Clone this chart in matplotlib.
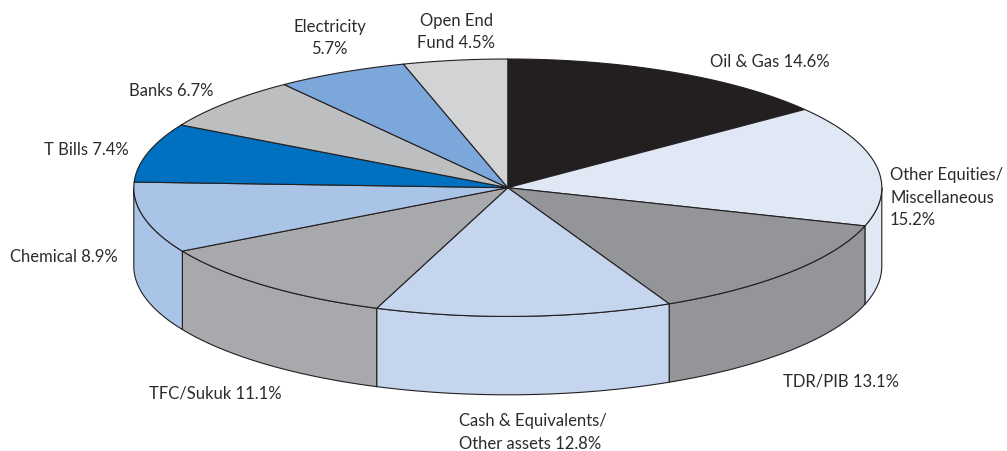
#3D pie chart of portfolio allocation
import matplotlib
matplotlib.use('Agg')
import matplotlib.pyplot as plt
import numpy as np
from matplotlib.patches import Polygon

labels = ['Oil & Gas 14.6%', 'Other Equities/\nMiscellaneous\n15.2%', 'TDR/PIB 13.1%',
          'Cash & Equivalents/\nOther assets 12.8%', 'TFC/Sukuk 11.1%', 'Chemical 8.9%',
          'T Bills 7.4%', 'Banks 6.7%', 'Electricity\n5.7%', 'Open End\nFund 4.5%']
values = [14.6, 15.2, 13.1, 12.8, 11.1, 8.9, 7.4, 6.7, 5.7, 4.5]
colors = ['#231f20', '#e0e8f5', '#939598', '#c5d5ee', '#a7a9ac',
          '#aac4e8', '#0070c0', '#bcbec0', '#7ba7db', '#d1d3d4']

plt.rcParams['font.family'] = ['Lato', 'DejaVu Sans']

W, H = 1007, 452
fig = plt.figure(figsize=(W/100, H/100), dpi=100)
ax = fig.add_axes([0, 0, 1, 1])
ax.set_xlim(0, W)
ax.set_ylim(H, 0)  #pixel coordinates, y goes down
ax.axis('off')

cx, cy, rx, ry, depth = 507.8, 188.7, 374, 128.7, 78.4
edge = '#231f20'

#anchor of each label and how its lines are aligned
label_pos = [(770, 62), (890, 198), (841, 382), (459, 432.5), (215, 394),
             (64, 257), (86, 150), (171, 91), (329.5, 38), (456, 32)]
label_ha = ['center', 'left', 'center', 'left', 'center',
            'center', 'center', 'center', 'center', 'center']

def rim(a0, a1):
    t = np.radians(np.linspace(a0, a1, 200))
    return cx + rx*np.sin(t), cy - ry*np.cos(t)

edges = np.concatenate(([0], np.cumsum(values)))/np.sum(values)*360

#side walls, only the front half of the pie is visible (90 to 270 degrees)
for i in range(len(values)):
    a0, a1 = max(edges[i], 90), min(edges[i+1], 270)
    if a1 <= a0:
        continue
    x, y = rim(a0, a1)
    pts = np.vstack((np.column_stack((x, y)), np.column_stack((x[::-1], y[::-1]+depth))))
    ax.add_patch(Polygon(pts, closed=True, facecolor=colors[i], edgecolor=edge, linewidth=0.8, joinstyle='round'))

#top slices
for i in range(len(values)):
    x, y = rim(edges[i], edges[i+1])
    pts = np.vstack(([[cx, cy]], np.column_stack((x, y))))
    ax.add_patch(Polygon(pts, closed=True, facecolor=colors[i], edgecolor=edge, linewidth=0.8, joinstyle='round'))

for lab, (px, py), ha in zip(labels, label_pos, label_ha):
    ax.text(px, py, lab, ha=ha, va='center', multialignment=ha, fontsize=12, color='#2b2b2b', linespacing=1.5)

fig.savefig('out.png', dpi=100)
